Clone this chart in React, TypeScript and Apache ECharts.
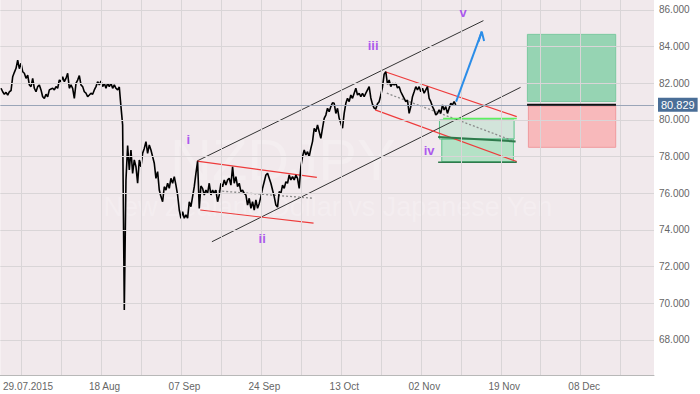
import React, { useEffect, useRef } from "react";
import * as echarts from "echarts";

// ---- data ----
const PRICE_START_BAR = -12;
const prices: number[] = [
  81.73, 81.54, 81.4, 81.51, 81.36, 81.54, 81.6, 82.36, 82.6, 82.82,
  83.27, 82.8, 83.09, 82.63, 82.55, 82.27, 82.45, 81.91, 81.82, 82.27,
  81.73, 81.54, 81.82, 81.91, 81.64, 81.27, 81.18, 81.4, 81.27, 81.64,
  81.69, 81.73, 81.64, 81.82, 81.73, 82.18, 82.09, 82.36, 82.09, 82.27,
  82.55, 81.73, 81.91, 81.73, 81.18, 82.0, 82.18, 82.42, 81.91, 81.82,
  81.54, 81.46, 81.27, 81.36, 81.46, 81.4, 81.64, 81.82, 82.09, 81.91,
  82.13, 81.82, 82.0, 81.73, 82.0, 81.82, 82.0, 81.73, 81.91, 81.73,
  81.64, 81.8, 80.73, 79.73, 69.64, 76.73, 78.6, 77.27, 78.36, 77.09,
  77.82, 77.45, 76.55, 77.82, 77.45, 78.18, 78.45, 78.82, 78.18, 78.64,
  78.36, 78.0, 77.64, 76.82, 77.18, 76.18, 75.82, 75.54, 76.36, 76.18,
  76.55, 76.27, 76.82, 76.55, 76.91, 76.45, 75.91, 75.09, 74.64, 75.0,
  74.64, 74.82, 74.64, 75.54, 75.27, 75.82, 76.36, 77.09, 77.75, 75.18,
  76.4, 76.27, 75.91, 76.18, 76.0, 76.55, 75.91, 76.18, 76.0, 76.18,
  75.54, 75.91, 76.55, 76.36, 76.73, 76.45, 76.73, 76.82, 76.45, 77.45,
  76.55, 76.91, 76.36, 76.55, 76.09, 76.18, 76.0, 75.91, 75.36, 75.73,
  75.18, 75.54, 75.09, 75.64, 75.18, 75.45, 75.82, 76.27, 76.63, 77.0,
  77.09, 76.82, 76.55, 76.18, 75.82, 75.36, 75.25, 76.09, 76.0, 76.45,
  76.27, 76.63, 76.55, 77.0, 76.73, 76.91, 76.73, 77.0, 76.82, 76.27,
  77.45, 78.0, 78.36, 78.09, 78.27, 78.0, 78.45, 78.82, 79.55, 79.36,
  79.73, 79.36, 79.0, 79.55, 80.09, 80.27, 80.64, 80.45, 80.73, 80.94,
  80.91, 80.36, 80.64, 80.09, 79.82, 79.55, 80.36, 80.91, 81.18, 81.0,
  81.36, 81.18, 81.46, 81.73, 81.36, 81.46, 81.27, 81.46, 81.27, 81.46,
  81.64, 81.82, 81.2, 80.85, 80.65, 80.6, 80.88, 81.0, 81.36, 81.8,
  82.5, 82.63, 81.95, 82.18, 81.82, 82.0, 81.91, 82.0, 81.75, 81.82,
  81.54, 81.36, 81.18, 81.0, 81.09, 80.36, 80.73, 81.27, 81.54, 81.82,
  81.64, 81.82, 81.54, 81.73, 81.46, 81.64, 81.82, 81.18, 81.0, 80.73,
  80.55, 80.27, 80.36, 80.55, 80.36, 80.82, 80.55, 80.73, 80.36, 80.64,
  80.91, 80.82, 81.0, 80.83,
];
const lastPrice = 80.829;

const xMin = -12.42;
const xMax = 380;
const yMin = 66.09;
const yMax = 86.545;

const xTickBars = [0, 48, 96, 144, 192, 240, 288, 336];
const xTickLabels = ["29.07.2015", "18 Aug", "07 Sep", "24 Sep", "13 Oct", "02 Nov", "19 Nov", "08 Dec"];
const xGridBars = [0, 24, 48, 72, 96, 120, 144, 168, 192, 216, 240, 264, 288, 312, 336, 360];
const yTicks = [68, 70, 72, 74, 76, 78, 80, 82, 84, 86];

const channelUpper = [[105.6, 77.76], [277.6, 85.42]];
const channelLower = [[114.6, 73.36], [299.9, 81.78]];
const wave2Upper = [[105.6, 77.76], [177.6, 76.87]];
const wave2Lower = [[107.6, 75.09], [175.6, 74.37]];
const wave2Mid = [[116.0, 76.15], [175.6, 75.73]];
const wave4Upper = [[218.6, 82.63], [297.6, 80.18]];
const wave4Lower = [[212.6, 80.55], [297.6, 77.73]];
const wave4Mid = [[219.6, 81.46], [296.6, 78.82]];
const arrowShaft = [[261.2, 81.0], [276.6, 84.82]];
const arrowHead = [[274.6, 84.27], [276.6, 84.82], [278.0, 84.31]];
const targetTopLine = [[253.4, 80.08], [297.6, 80.08]];
const targetMidLine = [[250.4, 79.07], [296.9, 78.83]];
const targetBottomLine = [[250.4, 77.69], [297.6, 77.69]];
const targetUpperZone = [[251.2, 80.0], [296.0, 78.96]];
const targetLowerZone = [[252.6, 78.96], [295.6, 77.725]];
const profitZone = [[304.0, 84.67], [357.0, 81.01]];
const lossZone = [[304.6, 80.76], [357.0, 78.51]];
const entryLine = [[303.8, 80.829], [357.2, 80.829]];

const waveNames = ["i", "ii", "iii", "iv", "v"];
const waveBars = [100.4, 144.8, 211.4, 245.0, 265.4];
const wavePrices = [78.91, 73.51, 84.04, 78.31, 85.86];

const watermarkTitle = "NZDJPY";
const watermarkSubtitle = "New Zealand Dollar vs Japanese Yen";

export default function App() {
  const ref = useRef<HTMLDivElement>(null);

  useEffect(() => {
    if (!ref.current) return;
    const chart = echarts.init(ref.current, null, { renderer: "svg" });
    const font = "Liberation Sans, Arial, sans-serif";

    const lineSeries = (data: number[][], color: string, width: number, type: any = "solid", z = 3) => ({
      type: "line",
      data,
      symbol: "none",
      showSymbol: false,
      silent: true,
      z,
      lineStyle: { color, width, type },
      emphasis: { disabled: true },
    });

    const zone = (pts: number[][], fill: string, border: string) => [
      { coord: pts[0], itemStyle: { color: fill, borderColor: border, borderWidth: 1 } },
      { coord: pts[1] },
    ];

    const labelFor = (v: number) => {
      const idx = xTickBars.indexOf(Math.round(v));
      if (idx < 0) return "";
      return idx === 0 ? "{first|" + xTickLabels[idx] + "}" : xTickLabels[idx];
    };

    chart.setOption({
      animation: false,
      backgroundColor: "#ffffff",
      grid: {
        show: true,
        left: 0,
        top: 0,
        right: 46,
        bottom: 19,
        backgroundColor: "#f1e9ec",
        borderWidth: 0,
      },
      graphic: [
        {
          type: "text",
          z: 1,
          silent: true,
          style: {
            x: 170,
            y: 159,
            text: watermarkTitle,
            font: "58px Liberation Sans, Arial, sans-serif",
            fill: "rgba(255,255,255,0.22)",
            textAlign: "left",
            textVerticalAlign: "middle",
          },
        },
        {
          type: "text",
          z: 1,
          silent: true,
          style: {
            x: 328,
            y: 207,
            text: watermarkSubtitle,
            font: "27px Liberation Sans, Arial, sans-serif",
            fill: "rgba(255,255,255,0.22)",
            textAlign: "center",
            textVerticalAlign: "middle",
          },
        },
      ],
      xAxis: {
        type: "value",
        min: xMin,
        max: xMax,
        axisLine: { show: true, onZero: false, lineStyle: { color: "#b8b8b8" } },
        axisTick: { show: false },
        splitLine: { show: false },
        axisLabel: {
          customValues: xTickBars,
          formatter: labelFor,
          color: "#666",
          fontSize: 10,
          fontFamily: font,
          margin: 6,
          padding: [0, 0, 0, 7],
          rich: {
            first: { padding: [0, 0, 0, 7], color: "#666", fontSize: 10, fontFamily: font },
          },
        },
      },
      yAxis: {
        type: "value",
        position: "right",
        min: yMin,
        max: yMax,
        axisLine: { show: true, lineStyle: { color: "#b8b8b8" } },
        axisTick: { show: true, length: 4, customValues: yTicks, lineStyle: { color: "#b8b8b8" } },
        splitLine: { show: false },
        axisLabel: {
          customValues: yTicks,
          formatter: (v: number) => v.toFixed(3),
          color: "#666",
          fontSize: 10,
          fontFamily: font,
          margin: 5,
        },
      },
      series: [
        {
          type: "line",
          data: [],
          z: 1,
          silent: true,
          markLine: {
            silent: true,
            symbol: ["none", "none"],
            label: { show: false },
            lineStyle: { color: "#d9d5d7", width: 1, type: "solid" },
            emphasis: { disabled: true },
            data: [
              ...xGridBars.map((b) => ({ xAxis: b })),
              ...yTicks.map((v) => ({ yAxis: v })),
            ],
          },
        },
        {
          type: "line",
          data: [],
          z: 2,
          silent: true,
          markArea: {
            silent: true,
            emphasis: { disabled: true },
            data: [
              zone(profitZone, "#96d4b3", "#7cc9a0"),
              zone(lossZone, "#f8b9bb", "#ef9a9e"),
              zone(targetUpperZone, "rgba(160,220,190,0.38)", "#5cc48a"),
              zone(targetLowerZone, "rgba(120,220,160,0.5)", "#5cc48a"),
            ],
          },
        },
        {
          type: "line",
          data: prices.map((p, i) => [i + PRICE_START_BAR, p]),
          symbol: "none",
          showSymbol: false,
          silent: true,
          z: 4,
          lineStyle: { color: "#000000", width: 1.6 },
          emphasis: { disabled: true },
          markLine: {
            silent: true,
            symbol: ["none", "none"],
            emphasis: { disabled: true },
            lineStyle: { color: "#9aa5b8", width: 1, type: "solid" },
            label: {
              show: true,
              position: "end",
              formatter: lastPrice.toFixed(3),
              backgroundColor: "#4a6e97",
              color: "#ffffff",
              padding: [2, 3, 1, 3],
              fontSize: 11,
              fontFamily: font,
              distance: 4,
            },
            data: [{ yAxis: lastPrice }],
          },
        },
        lineSeries(channelUpper, "#333333", 1),
        lineSeries(channelLower, "#333333", 1),
        lineSeries(wave2Upper, "#ee3b3b", 1.2),
        lineSeries(wave2Lower, "#ee3b3b", 1.2),
        lineSeries(wave2Mid, "#8a8a8a", 1.3, [2, 2]),
        lineSeries(wave4Upper, "#ee3b3b", 1.2),
        lineSeries(wave4Lower, "#ee3b3b", 1.2),
        lineSeries(wave4Mid, "#8a8a8a", 1.3, [2, 2]),
        lineSeries(targetTopLine, "#5ef05e", 1.5),
        lineSeries(targetMidLine, "#2f7a4c", 2),
        lineSeries(targetBottomLine, "#2f7a4c", 1.5),
        lineSeries(entryLine, "#111111", 2, "solid", 5),
        lineSeries(arrowShaft, "#2b8de8", 2, "solid", 5),
        lineSeries(arrowHead, "#2b8de8", 2, "solid", 5),
        {
          type: "scatter",
          silent: true,
          z: 6,
          symbolSize: 0,
          itemStyle: { color: "transparent" },
          data: waveBars.map((b, i) => ({ value: [b, wavePrices[i]], name: waveNames[i] })),
          label: {
            show: true,
            position: "inside",
            formatter: (p: any) => p.name,
            color: "#9933ee",
            fontSize: 13,
            fontWeight: "bold",
            fontFamily: font,
          },
        },
      ],
    });

    return () => chart.dispose();
  }, []);

  return (
    <div
      ref={ref}
      style={{ position: "fixed", left: 0, top: 0, width: 700, height: 394 }}
    />
  );
}
